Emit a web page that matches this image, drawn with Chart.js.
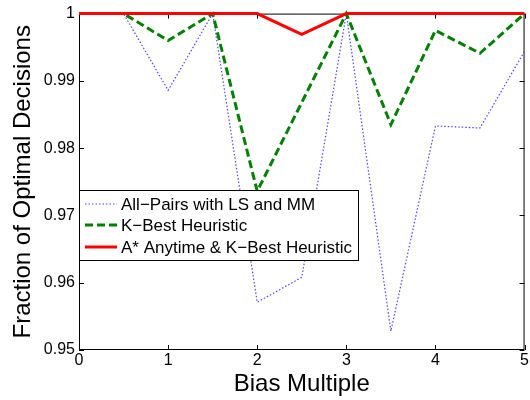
<!DOCTYPE html>
<html>
<head>
<meta charset="utf-8">
<script src="https://cdn.jsdelivr.net/npm/chart.js@4"></script>
<style>
  html, body { margin: 0; padding: 0; background: #fff; }
  #wrap { width: 530px; height: 400px; }
</style>
</head>
<body>
<div id="wrap"><canvas id="chart1" width="530" height="400"></canvas></div>
<script>
// bias multiples along the x axis
const biasMultiple = [0, 0.5, 1, 1.5, 2, 2.5, 3, 3.5, 4, 4.5, 5];

const allPairs = [1, 1, 0.9886, 1, 0.9571, 0.9608, 1, 0.9528, 0.9833, 0.983, 0.9944];
const kBest = [1, 1, 0.996, 1, 0.9736, 0.9868, 1, 0.9835, 0.9975, 0.9941, 1];
const aStar = [1, 1, 1, 1, 1, 0.9969, 1, 1, 1, 1, 1];

const xTicks = [0, 1, 2, 3, 4, 5];
const yTicks = [0.95, 0.96, 0.97, 0.98, 0.99, 1];

const FONT = '"Liberation Sans", Arial, Helvetica, sans-serif';

const toPoints = ys => ys.map((y, i) => ({x: biasMultiple[i], y: y}));

// matlab style box with inward ticks on all four sides
const boxPlugin = {
    id: 'box',
    beforeDatasetsDraw(chart) {
        const {ctx, chartArea: a, scales} = chart;
        const tl = 5;
        ctx.save();
        ctx.strokeStyle = '#000';
        ctx.lineWidth = 1;
        ctx.strokeRect(a.left + 0.5, a.top + 0.5, a.right - a.left - 1, a.bottom - a.top - 1);
        ctx.beginPath();
        xTicks.forEach(v => {
            const px = Math.round(scales.x.getPixelForValue(v)) + 0.5;
            ctx.moveTo(px, a.bottom); ctx.lineTo(px, a.bottom - tl);
            ctx.moveTo(px, a.top); ctx.lineTo(px, a.top + tl);
        });
        yTicks.forEach(v => {
            const py = Math.round(scales.y.getPixelForValue(v)) + 0.5;
            ctx.moveTo(a.left, py); ctx.lineTo(a.left + tl, py);
            ctx.moveTo(a.right, py); ctx.lineTo(a.right - tl, py);
        });
        ctx.stroke();
        ctx.restore();
    },
    afterDatasetsDraw(chart) {
        // legend box sitting inside the plot area
        const {ctx, chartArea: a} = chart;
        const x0 = a.left, y0 = 190, w = 279, h = 70;
        ctx.save();
        ctx.fillStyle = '#fff';
        ctx.fillRect(x0, y0, w, h);
        ctx.strokeStyle = '#000';
        ctx.lineWidth = 1;
        ctx.strokeRect(x0 + 0.5, y0 + 0.5, w, h);
        ctx.font = '17px ' + FONT;
        ctx.textBaseline = 'middle';
        ctx.fillStyle = '#000';
        const rows = [204, 225, 247];
        const order = [2, 1, 0];
        order.forEach((di, r) => {
            const ds = chart.data.datasets[di];
            ctx.beginPath();
            ctx.strokeStyle = ds.borderColor;
            ctx.lineWidth = ds.borderWidth;
            ctx.setLineDash(ds.borderDash || []);
            ctx.moveTo(85, rows[r]);
            ctx.lineTo(117, rows[r]);
            ctx.stroke();
            ctx.setLineDash([]);
            ctx.fillText(ds.label, 121, rows[r] + 1);
        });
        ctx.restore();
    }
};

const ctx1 = document.getElementById('chart1').getContext('2d');

var chart1 = new Chart(ctx1, {
    type: 'line',
    data: {
        datasets: [{
                label: 'A* Anytime & K\u2212Best Heuristic',
                data: toPoints(aStar),
                borderColor: '#ff0000',
                borderWidth: 3,
                order: 1,
            },
            {
                label: 'K\u2212Best Heuristic',
                data: toPoints(kBest),
                borderColor: '#008000',
                borderWidth: 3,
                borderDash: [8, 4],
                order: 2,
            },
            {
                label: 'All\u2212Pairs with LS and MM',
                data: toPoints(allPairs),
                borderColor: 'rgba(40,40,255,0.85)',
                borderWidth: 1.2,
                borderDash: [1.5, 2],
                order: 3,
            },
        ],
    },
    options: {
        responsive: false,
        animation: false,
        clip: false,
        layout: {
            padding: {top: 11, right: 2, left: 0, bottom: 0}
        },
        elements: {
            point: {radius: 0},
            line: {tension: 0, fill: false, borderCapStyle: 'butt'}
        },
        plugins: {
            legend: {display: false},
            tooltip: {enabled: false},
        },
        scales: {
            x: {
                type: 'linear',
                min: 0,
                max: 5,
                afterBuildTicks: s => { s.ticks = xTicks.map(v => ({value: v})); },
                afterFit: s => { s.height = 50; },
                grid: {display: false, drawTicks: false},
                border: {display: false},
                ticks: {
                    padding: 1,
                    color: '#000',
                    maxRotation: 0,
                    font: {family: FONT, size: 16},
                },
                title: {
                    display: true,
                    text: 'Bias Multiple',
                    color: '#000',
                    font: {family: FONT, size: 24, lineHeight: 1.2},
                    padding: {top: 0, bottom: 1},
                },
            },
            y: {
                type: 'linear',
                min: 0.95,
                max: 1,
                afterBuildTicks: s => { s.ticks = yTicks.map(v => ({value: v})); },
                afterFit: s => { s.width = 79; },
                grid: {display: false, drawTicks: false},
                border: {display: false},
                ticks: {
                    padding: 4,
                    color: '#000',
                    font: {family: FONT, size: 16},
                    callback: v => String(+v.toFixed(2)),
                },
                title: {
                    display: true,
                    text: 'Fraction of Optimal Decisions',
                    color: '#000',
                    font: {family: FONT, size: 24, lineHeight: 1.2},
                    padding: {top: 9, bottom: 0},
                },
            },
        },
    },
    plugins: [boxPlugin],
});
</script>
</body>
</html>
